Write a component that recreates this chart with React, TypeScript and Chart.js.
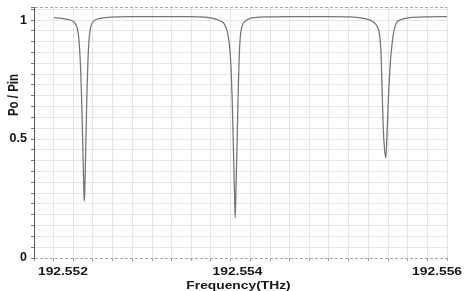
import React, { useEffect, useRef } from "react";
import { Chart, registerables } from "chart.js";

Chart.register(...registerables);

// Frequency (THz) and normalised output power Po/Pin
const FREQ_THZ = [
  192.5521937, 192.5522518, 192.5523099, 192.552368, 192.5523971, 192.5524165,
  192.552431, 192.5524407, 192.5524504, 192.55246, 192.5524697, 192.5524775,
  192.5524843, 192.5524872, 192.552491, 192.5524968, 192.5525036, 192.5525133,
  192.552523, 192.5525327, 192.5525424, 192.5525569, 192.5525811, 192.5526392,
  192.5527361, 192.5529298, 192.5532203, 192.5535109, 192.5536562, 192.553753,
  192.5538111, 192.5538402, 192.5538644, 192.5538838, 192.5538983, 192.5539099,
  192.5539196, 192.5539293, 192.553937, 192.5539438, 192.5539487, 192.5539535,
  192.5539603, 192.553968, 192.5539777, 192.5539874, 192.5539971, 192.5540097,
  192.5540291, 192.554063, 192.5541114, 192.5542373, 192.5544794, 192.5548668,
  192.5550605, 192.5551768, 192.5552542, 192.555293, 192.555322, 192.5553414,
  192.5553511, 192.5553608, 192.5553685, 192.5553763, 192.555384, 192.5553956,
  192.5554073, 192.5554189, 192.5554315, 192.5554431, 192.5554528, 192.5554644,
  192.5554799, 192.5554964, 192.5555128, 192.5555545, 192.5556416, 192.5557869,
  192.556,
];
const PO_PIN = [
  1.01, 1.008, 1.004, 0.997, 0.987, 0.968,
  0.935, 0.885, 0.805, 0.685, 0.525, 0.38,
  0.26, 0.24, 0.27, 0.37, 0.52, 0.7,
  0.835, 0.915, 0.955, 0.982, 0.997, 1.007,
  1.012, 1.015, 1.015, 1.015, 1.012, 1.005,
  0.995, 0.985, 0.962, 0.925, 0.87, 0.785,
  0.665, 0.5, 0.36, 0.24, 0.17, 0.24,
  0.36, 0.5, 0.7, 0.845, 0.925, 0.965,
  0.988, 1.001, 1.009, 1.014, 1.015, 1.015,
  1.013, 1.008, 1.0, 0.99, 0.975, 0.952,
  0.922, 0.865, 0.755, 0.635, 0.53, 0.455,
  0.42, 0.52, 0.66, 0.76, 0.83, 0.885,
  0.94, 0.972, 0.99, 1.002, 1.01, 1.014,
  1.015,
];

const X_MIN = 192.552;
const X_MAX = 192.556;
const X_GRID_DIVS = 21;
const X_LABELS = [192.552, 192.554, 192.556];
const Y_MIN = 0;
const Y_MAX = 1.055;
const Y_GRID_DIVS_PER_UNIT = 22;
const Y_LABELS = [0, 0.5, 1];
const X_TITLE = "Frequency(THz)";
const Y_TITLE = "Po / Pin";

const FONT = '"Liberation Sans", Arial, sans-serif';

const textPlugin = {
  id: "customTexts",
  afterDraw(chart: any) {
    const { ctx, chartArea, scales } = chart;
    const xs = scales.x;
    const drawStretched = (text: string, x: number, y: number, align: CanvasTextAlign, rotate = false) => {
      ctx.save();
      ctx.translate(x, y);
      ctx.scale(1.2, 1);
      if (rotate) ctx.rotate(-Math.PI / 2);
      ctx.textAlign = align;
      ctx.textBaseline = "middle";
      ctx.fillText(text, 0, 0);
      ctx.restore();
    };
    ctx.save();
    ctx.fillStyle = "#161616";
    ctx.font = `bold 11.5px ${FONT}`;
    X_LABELS.forEach((v, i) => {
      const px = xs.getPixelForValue(v);
      const text = v.toFixed(3);
      const y = chartArea.bottom + 14;
      if (i === 0) drawStretched(text, px + 4, y, "left");
      else if (i === X_LABELS.length - 1) drawStretched(text, px + 15, y, "right");
      else drawStretched(text, px - 3, y, "center");
    });
    drawStretched(X_TITLE, (chartArea.left + chartArea.right) / 2 - 2, chartArea.bottom + 28, "center");
    drawStretched(Y_TITLE, 14, chartArea.top + 88, "center", true);
    ctx.restore();
  },
};

export default function App() {
  const canvasRef = useRef<HTMLCanvasElement | null>(null);

  useEffect(() => {
    const canvas = canvasRef.current;
    if (!canvas) return;
    const points = FREQ_THZ.map((f, i) => ({ x: f, y: PO_PIN[i] }));
    const isEdge = (c: any) => c.index === 0 || (c.tick && Math.abs(c.tick.value - Y_MAX) < 1e-9);

    const chart = new Chart(canvas, {
      type: "line",
      data: {
        datasets: [
          {
            data: points,
            borderColor: "#747474",
            borderWidth: 1.25,
            pointRadius: 0,
            fill: false,
            cubicInterpolationMode: "monotone",
          },
        ],
      },
      options: {
        animation: false,
        responsive: false,
        devicePixelRatio: 1,
        layout: { padding: { top: 7, right: 18, bottom: 0, left: 0 } },
        plugins: {
          legend: { display: false },
          tooltip: { enabled: false },
        },
        scales: {
          x: {
            type: "linear",
            min: X_MIN,
            max: X_MAX,
            afterBuildTicks: (scale: any) => {
              const ticks = [];
              for (let i = 0; i <= X_GRID_DIVS; i++) {
                ticks.push({ value: i === X_GRID_DIVS ? X_MAX : X_MIN + (i * (X_MAX - X_MIN)) / X_GRID_DIVS });
              }
              scale.ticks = ticks;
            },
            afterFit: (scale: any) => {
              scale.height = 33;
              scale.paddingLeft = 0;
              scale.paddingRight = 0;
            },
            ticks: { display: false },
            grid: {
              color: "#e6e6e6",
              lineWidth: 1,
              drawTicks: true,
              tickLength: 3,
              tickColor: "#9a9a9a",
            },
            border: { display: false },
          },
          y: {
            type: "linear",
            min: Y_MIN,
            max: Y_MAX,
            afterBuildTicks: (scale: any) => {
              const ticks = [];
              for (let i = 0; i / Y_GRID_DIVS_PER_UNIT <= Y_MAX; i++) {
                ticks.push({ value: i / Y_GRID_DIVS_PER_UNIT });
              }
              ticks.push({ value: Y_MAX });
              scale.ticks = ticks;
            },
            afterFit: (scale: any) => {
              scale.width = 34;
              scale.paddingTop = 0;
              scale.paddingBottom = 0;
            },
            ticks: {
              autoSkip: false,
              padding: 4,
              color: "#161616",
              font: { family: FONT, size: 12.5, weight: "bold" },
              callback: (value: any) => {
                const m = Y_LABELS.find((l) => Math.abs(l - Number(value)) < 1e-6);
                return m === undefined ? "" : String(m);
              },
            },
            grid: {
              color: (c: any) => (isEdge(c) ? "#a8a8a8" : "#e6e6e6"),
              lineWidth: 1,
              drawTicks: true,
              tickLength: 3,
              tickColor: "#777777",
            },
            border: {
              display: true,
              color: "#555555",
              width: 1,
              dash: (c: any) => (isEdge(c) ? [3, 2] : []),
            },
          },
        },
      },
      plugins: [textPlugin],
    } as any);

    return () => chart.destroy();
  }, []);

  return (
    <div style={{ position: "fixed", left: 0, top: 0, width: 465, height: 291, background: "#ffffff" }}>
      <canvas ref={canvasRef} width={465} height={291} style={{ display: "block" }} />
    </div>
  );
}
